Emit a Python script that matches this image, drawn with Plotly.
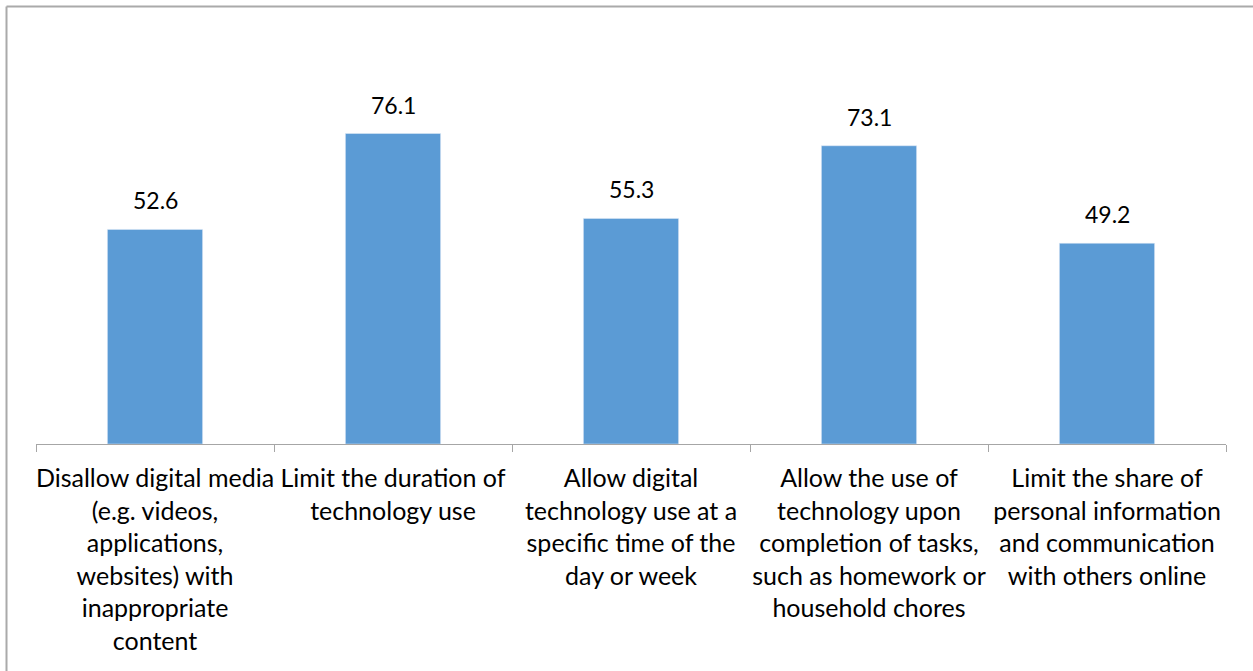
import plotly.graph_objects as go

categories = [
    "Disallow digital media<br>(e.g. videos,<br>applications,<br>websites) with<br>inappropriate<br>content",
    "Limit the duration of<br>technology use",
    "Allow digital<br>technology use at a<br>specific time of the<br>day or week",
    "Allow the use of<br>technology upon<br>completion of tasks,<br>such as homework or<br>household chores",
    "Limit the share of<br>personal information<br>and communication<br>with others online",
]
values = [52.6, 76.1, 55.3, 73.1, 49.2]
value_labels = ["52.6", "76.1", "55.3", "73.1", "49.2"]

FONT = "Lato, Carlito, Calibri, sans-serif"
W, H = 1253, 671
ML, MR, MT, MB = 36, 27, 36, 227
pw = W - ML - MR
ph = H - MT - MB

def px_x(p):
    return (p - ML) / pw

def px_y(p):
    return 1 - (p - MT) / ph

fig = go.Figure(go.Bar(
    x=categories, y=values, marker_color="#5B9BD5", width=0.4,
    hoverinfo="skip",
))

for c, v, t in zip(categories, values, value_labels):
    fig.add_annotation(x=c, y=v, text=t, showarrow=False, yanchor="bottom",
                       yshift=13, font=dict(family=FONT, size=23, color="#000000"))

# outer border (left and top edges visible)
fig.add_shape(type="line", xref="paper", yref="paper", x0=px_x(6.5), x1=px_x(W + 5),
              y0=px_y(6.5), y1=px_y(6.5), line=dict(color="#AAAAAA", width=2))
fig.add_shape(type="line", xref="paper", yref="paper", x0=px_x(6.5), x1=px_x(6.5),
              y0=px_y(6.5), y1=px_y(H + 5), line=dict(color="#AAAAAA", width=2))

fig.update_layout(
    width=W, height=H,
    margin=dict(l=ML, r=MR, t=MT, b=MB),
    paper_bgcolor="white", plot_bgcolor="white",
    showlegend=False,
    font=dict(family=FONT, size=25, color="#000000"),
    xaxis=dict(
        showline=True, linecolor="#A6A6A6", linewidth=1,
        ticks="outside", tickson="boundaries", ticklen=7, tickcolor="#A6A6A6",
        tickangle=0, tickfont=dict(family=FONT, size=25, color="#000000"),
        ticklabelstandoff=12,
        showgrid=False, fixedrange=True,
    ),
    yaxis=dict(range=[0, 100], visible=False, showgrid=False, fixedrange=True),
)

fig.write_html("out.html", config={"displayModeBar": False})
